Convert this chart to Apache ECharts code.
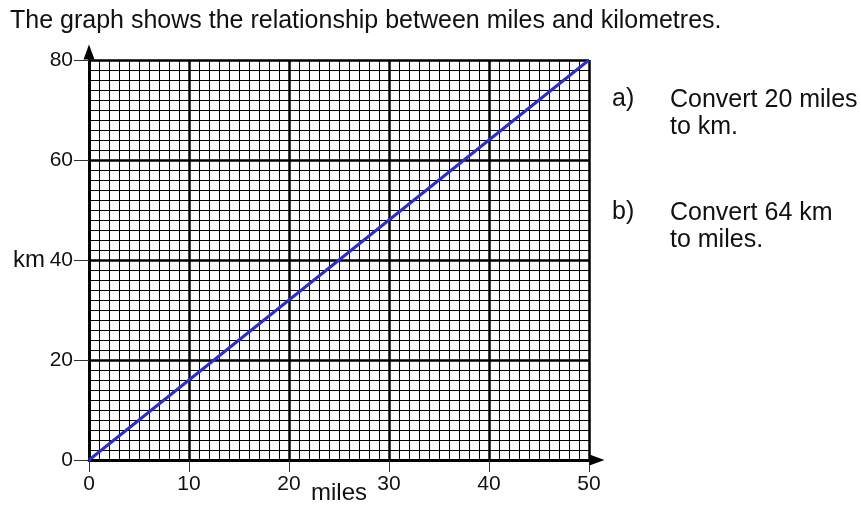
<!DOCTYPE html>
<html>
<head>
<meta charset="utf-8">
<script src="https://cdn.jsdelivr.net/npm/echarts@6/dist/echarts.min.js"></script>
<style>
html,body{margin:0;padding:0;background:#fff;}
#c{width:861px;height:509px;}
</style>
</head>
<body>
<div id="c"></div>
<script>
// Data
var miles = [0, 50];
var km = [0, 80];
var xTickLabels = ['0', '10', '20', '30', '40', '50'];
var yTickLabels = ['0', '20', '40', '60', '80'];
var titleText = 'The graph shows the relationship between miles and kilometres.';
var questionA = ['Convert 20 miles', 'to km.'];
var questionB = ['Convert 64 km', 'to miles.'];

var FONT = 'Liberation Sans, Arial, sans-serif';
var chart = echarts.init(document.getElementById('c'));
var points = miles.map(function (m, i) { return [m, km[i]]; });

chart.setOption({
  backgroundColor: '#fff',
  animation: false,
  title: {
    text: titleText,
    left: 5, top: 4,
    textStyle: { fontFamily: FONT, fontSize: 25, fontWeight: 'normal', color: '#111' }
  },
  grid: { left: 89, top: 60, width: 500, height: 400, outerBoundsMode: 'none', containLabel: false },
  xAxis: {
    type: 'value', min: 0, max: 50, interval: 10,
    name: 'miles', nameLocation: 'middle', nameGap: 21, nameMoveOverlap: false,
    nameTextStyle: { fontFamily: FONT, fontSize: 24, color: '#111' },
    axisLine: { show: true, lineStyle: { color: '#000', width: 3 }, symbol: ['none', 'triangle'], symbolSize: [11, 15], symbolOffset: [0, 8] },
    axisTick: { show: true, length: 12, lineStyle: { color: '#333', width: 1 } },
    axisLabel: { margin: 14, fontFamily: FONT, fontSize: 21, color: '#111',
      formatter: function (v) { return xTickLabels[v / 10]; } },
    splitLine: { show: true, lineStyle: { color: '#000', width: 2.5 } },
    minorTick: { show: false, splitNumber: 10 },
    minorSplitLine: { show: true, lineStyle: { color: '#000', width: 1 } }
  },
  yAxis: {
    type: 'value', min: 0, max: 80, interval: 20,
    name: 'km', nameLocation: 'middle', nameRotate: 0, nameGap: 44, nameMoveOverlap: false,
    nameTextStyle: { fontFamily: FONT, fontSize: 24, color: '#111', align: 'right' },
    axisLine: { show: true, lineStyle: { color: '#000', width: 3 }, symbol: ['none', 'triangle'], symbolSize: [11, 15], symbolOffset: [0, 8] },
    axisTick: { show: true, length: 15, lineStyle: { color: '#333', width: 1 } },
    axisLabel: { margin: 16, fontFamily: FONT, fontSize: 21, color: '#111',
      formatter: function (v) { return yTickLabels[v / 20]; } },
    splitLine: { show: true, lineStyle: { color: '#000', width: 2.5 } },
    minorTick: { show: false, splitNumber: 10 },
    minorSplitLine: { show: true, lineStyle: { color: '#000', width: 1 } }
  },
  series: [{
    type: 'line', data: points, symbol: 'none', z: 5,
    lineStyle: { color: '#2a2fc8', width: 3 }
  }],
  graphic: [
    { type: 'text', left: 612, top: 87, style: { text: 'a)', font: '25px ' + FONT, fill: '#111' } },
    { type: 'text', left: 670, top: 87, style: { text: questionA.join('\n'), font: '25px ' + FONT, fill: '#111', lineHeight: 27 } },
    { type: 'text', left: 612, top: 200, style: { text: 'b)', font: '25px ' + FONT, fill: '#111' } },
    { type: 'text', left: 670, top: 200, style: { text: questionB.join('\n'), font: '25px ' + FONT, fill: '#111', lineHeight: 27 } }
  ]
});
</script>
</body>
</html>
